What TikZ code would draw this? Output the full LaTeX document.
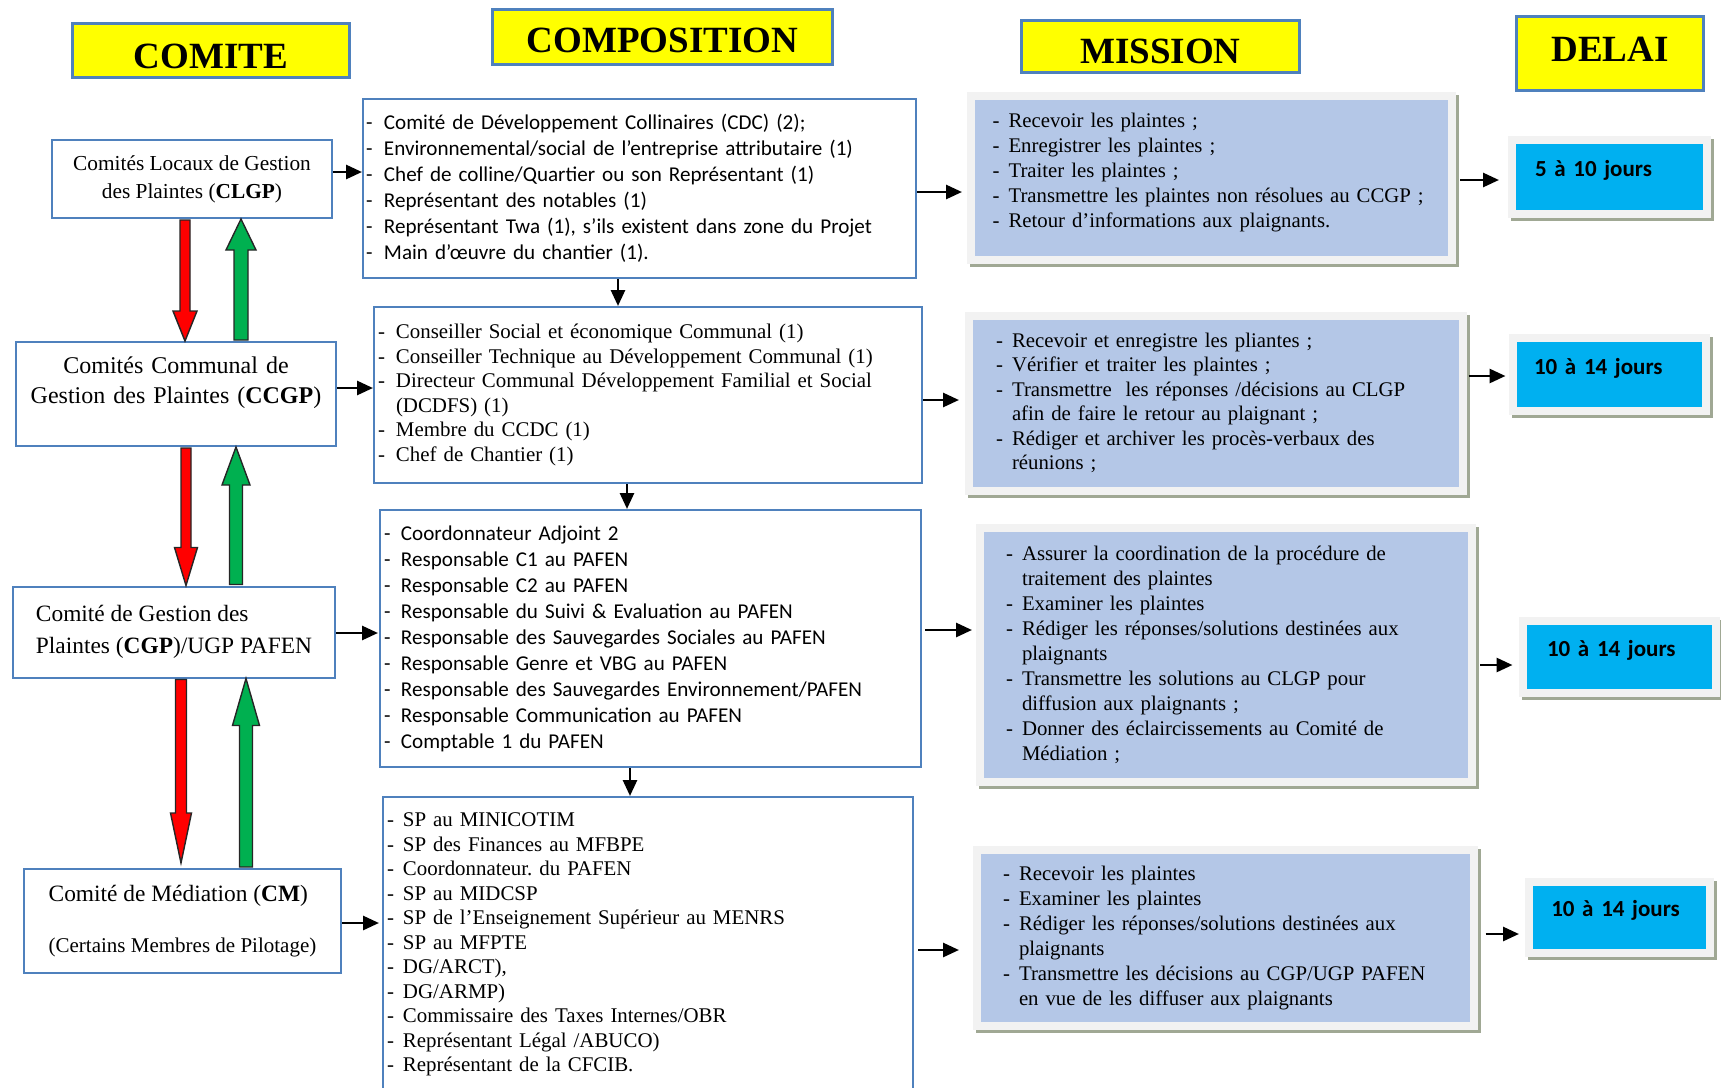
\documentclass[tikz,border=0pt]{standalone}
\usepackage{fontspec}
\setmainfont{Liberation Serif}
\newfontfamily\calibri{Carlito}
\usepackage{xcolor}
\usepackage{tikz}
\usetikzlibrary{arrows.meta, calc, shadows}
\frenchspacing

\definecolor{boxblue}{RGB}{79,129,189}
\definecolor{titleyellow}{RGB}{255,255,0}
\definecolor{missionblue}{RGB}{180,199,231}
\definecolor{framegray}{RGB}{242,242,242}
\definecolor{delaicyan}{RGB}{0,176,240}
\definecolor{shadowgreen}{RGB}{160,168,148}
\definecolor{arrowred}{RGB}{255,0,0}
\definecolor{arrowgreen}{RGB}{0,176,80}

\tikzstyle{titre} = [rectangle, draw=boxblue, line width=1.5pt, fill=titleyellow, inner sep=0pt, font=\fontsize{18.5}{20}\selectfont\bfseries]
\tikzstyle{comite} = [rectangle, draw=boxblue, line width=1pt, fill=white, inner sep=0pt]
\tikzstyle{compo} = [rectangle, draw=boxblue, line width=1pt, fill=white, inner sep=0pt, align=left]
\tikzstyle{mission} = [rectangle, draw=framegray, line width=4pt, fill=missionblue, inner sep=0pt, align=left, font=\fontsize{10.4}{12.5}\selectfont, drop shadow={shadow xshift=1.6pt, shadow yshift=-1.6pt, opacity=1, fill=shadowgreen, draw=shadowgreen, line width=4pt}]
\tikzstyle{delai} = [rectangle, draw=framegray, line width=4pt, fill=delaicyan, inner sep=0pt, align=left, text depth=8.5pt, font=\calibri\bfseries\fontsize{11.5}{14}\selectfont, drop shadow={shadow xshift=1.6pt, shadow yshift=-1.6pt, opacity=1, fill=shadowgreen, draw=shadowgreen, line width=4pt}]
\tikzstyle{arrow} = [line width=1.4pt, ->, >={Triangle[length=8pt,width=7pt]}]
\tikzstyle{blockline} = [draw=black!85, line width=0.7pt]

\newcommand{\dashitem}[1]{\makebox[#1][l]{-}}
% fill, from, to, half shaft, half head, head length
\newcommand{\blockarrow}[6]{%
  \path[blockline, fill=#1] let \p1=#2, \p2=#3, \n1={(\y2-\y1)/abs(\y2-\y1)} in
    ({\x1-#4},\y1) -- ({\x1-#4},{\y2-\n1*#6}) -- ({\x1-#5},{\y2-\n1*#6}) -- (\x1,\y2)
    -- ({\x1+#5},{\y2-\n1*#6}) -- ({\x1+#4},{\y2-\n1*#6}) -- ({\x1+#4},\y1) -- cycle;}

\begin{document}
\begin{tikzpicture}[x=0.5pt, y=-0.5pt]
\useasboundingbox (0,0) rectangle (1721,1088);

% Titles
\node (tcomite) [titre, minimum width=138.5pt, minimum height=27pt, text height=17.75pt] at (211,50.5) {COMITE};
\node (tcompo) [titre, minimum width=170pt, minimum height=27.5pt, text height=15.25pt] at (662.5,37) {COMPOSITION};
\node (tmission) [titre, minimum width=139pt, minimum height=26pt, text height=16.75pt] at (1160.5,46.5) {MISSION};
\node (tdelai) [titre, minimum width=93.5pt, minimum height=37pt, text depth=4.5pt] at (1610,53.5) {DELAI};

% Comites
\node (clgp) [comite, minimum width=140pt, minimum height=39pt, align=center, font=\fontsize{10.67}{14}\selectfont] at (192,179) {Comités Locaux de Gestion\\des Plaintes (\textbf{CLGP})};
\node (ccgp) [comite, minimum width=160pt, minimum height=52pt, text width=150pt, align=center, text depth=29pt, font=\fontsize{12}{15}\selectfont] at (176,394) {Comités Communal de\\Gestion des Plaintes (\textbf{CCGP})};
\node (cgp) [comite, minimum width=161pt, minimum height=45.5pt, align=left, font=\fontsize{11.7}{16}\selectfont] at (174,632) {Comité de Gestion des\\Plaintes (\textbf{CGP})/UGP PAFEN};
\node (cm) [comite, minimum width=158.5pt, minimum height=52pt, align=left, font=\fontsize{11.7}{14}\selectfont] at (182.5,921) {Comité de Médiation (\textbf{CM})\\[11.5pt]{\fontsize{10.5}{12}\selectfont (Certains Membres de Pilotage)}};

% Composition
\node (comp1) [compo, minimum width=276.5pt, minimum height=89.5pt, text width=273.5pt, font=\calibri\fontsize{10.55}{13}\selectfont] at (639.5,188.5) {%
\dashitem{9pt}Comité de Développement Collinaires (CDC) (2);\\
\dashitem{9pt}Environnemental/social de l’entreprise attributaire (1)\\
\dashitem{9pt}Chef de colline/Quartier ou son Représentant (1)\\
\dashitem{9pt}Représentant des notables (1)\\
\dashitem{9pt}Représentant Twa (1), s’ils existent dans zone du Projet\\
\dashitem{9pt}Main d’œuvre du chantier (1).};
\node (comp2) [compo, minimum width=274pt, minimum height=88pt, text width=270pt, font=\fontsize{10.45}{12.25}\selectfont] at (648,395) {%
\dashitem{9pt}Conseiller Social et économique Communal (1)\\
\dashitem{9pt}Conseiller Technique au Développement Communal (1)\\
\dashitem{9pt}\makebox[247.5pt][s]{Directeur Communal Développement Familial et Social}\\
\hspace*{9pt}(DCDFS) (1)\\
\dashitem{9pt}Membre du CCDC (1)\\
\dashitem{9pt}Chef de Chantier (1)};
\node (comp3) [compo, minimum width=270.5pt, minimum height=128.5pt, text width=266.5pt, font=\calibri\fontsize{10.55}{13}\selectfont] at (650.5,638.5) {%
\dashitem{8.5pt}Coordonnateur Adjoint 2\\
\dashitem{8.5pt}Responsable C1 au PAFEN\\
\dashitem{8.5pt}Responsable C2 au PAFEN\\
\dashitem{8.5pt}Responsable du Suivi \& Evaluation au PAFEN\\
\dashitem{8.5pt}Responsable des Sauvegardes Sociales au PAFEN\\
\dashitem{8.5pt}Responsable Genre et VBG au PAFEN\\
\dashitem{8.5pt}Responsable des Sauvegardes Environnement/PAFEN\\
\dashitem{8.5pt}Responsable Communication au PAFEN\\
\dashitem{8.5pt}Comptable 1 du PAFEN};
\node (comp4) [compo, minimum width=265pt, minimum height=147.5pt, text width=261pt, font=\fontsize{10.45}{12.25}\selectfont] at (648,944.5) {%
\dashitem{8pt}SP au MINICOTIM\\
\dashitem{8pt}SP des Finances au MFBPE\\
\dashitem{8pt}Coordonnateur. du PAFEN\\
\dashitem{8pt}SP au MIDCSP\\
\dashitem{8pt}SP de l’Enseignement Supérieur au MENRS\\
\dashitem{8pt}SP au MFPTE\\
\dashitem{8pt}DG/ARCT),\\
\dashitem{8pt}DG/ARMP)\\
\dashitem{8pt}Commissaire des Taxes Internes/OBR\\
\dashitem{8pt}Représentant Légal /ABUCO)\\
\dashitem{8pt}Représentant de la CFCIB.};

% Mission
\node (m1) [mission, minimum width=240.5pt, minimum height=82pt, text width=219pt, text depth=58pt] at (1211.5,178) {%
\dashitem{8pt}Recevoir les plaintes ;\\
\dashitem{8pt}Enregistrer les plaintes ;\\
\dashitem{8pt}Traiter les plaintes ;\\
\dashitem{8pt}Transmettre les plaintes non résolues au CCGP ;\\
\dashitem{8pt}Retour d’informations aux plaignants.};
\node (m2) [mission, minimum width=246.75pt, minimum height=87.5pt, text width=219.75pt, font=\fontsize{10.4}{12.25}\selectfont] at (1215.75,403) {%
\dashitem{8pt}Recevoir et enregistre les pliantes ;\\
\dashitem{8pt}Vérifier et traiter les plaintes ;\\
\dashitem{8pt}Transmettre\ \ les réponses /décisions au CLGP\\
\hspace*{8pt}afin de faire le retour au plaignant ;\\
\dashitem{8pt}Rédiger et archiver les procès-verbaux des\\
\hspace*{8pt}réunions ;};
\node (m3) [mission, minimum width=246pt, minimum height=126.75pt, text width=220pt] at (1226,654.75) {%
\dashitem{8pt}Assurer la coordination de la procédure de\\
\hspace*{8pt}traitement des plaintes\\
\dashitem{8pt}Examiner les plaintes\\
\dashitem{8pt}Rédiger les réponses/solutions destinées aux\\
\hspace*{8pt}plaignants\\
\dashitem{8pt}Transmettre les solutions au CLGP pour\\
\hspace*{8pt}diffusion aux plaignants ;\\
\dashitem{8pt}Donner des éclaircissements au Comité de\\
\hspace*{8pt}Médiation ;};
\node (m4) [mission, minimum width=248.5pt, minimum height=88.25pt, text width=222pt] at (1225,937.75) {%
\dashitem{8pt}Recevoir les plaintes\\
\dashitem{8pt}Examiner les plaintes\\
\dashitem{8pt}Rédiger les réponses/solutions destinées aux\\
\hspace*{8pt}plaignants\\
\dashitem{8pt}Transmettre les décisions au CGP/UGP PAFEN\\
\hspace*{8pt}en vue de les diffuser aux plaignants};

% Delai
\node (d1) [delai, minimum width=97.25pt, minimum height=36.75pt, text width=74.25pt] at (1609.25,176.75) {5 à 10 jours};
\node (d2) [delai, minimum width=96.75pt, minimum height=36.5pt, text width=75.25pt] at (1609.25,374.5) {10 à 14 jours};
\node (d3) [delai, minimum width=96.75pt, minimum height=36.25pt, text width=72.25pt] at (1619.25,656.75) {10 à 14 jours};
\node (d4) [delai, minimum width=90.25pt, minimum height=35.25pt, text width=68pt] at (1619.25,917.25) {10 à 14 jours};

% Arrows - comite to composition
\draw [arrow] ($(clgp.east)+(0,-7)$) -- ($(comp1.west |- clgp.east)+(0,-7)$);
\draw [arrow] ($(ccgp.east)+(0,-6)$) -- ($(comp2.west |- ccgp.east)+(0,-6)$);
\draw [arrow] ($(cgp.east)+(0,1)$) -- ($(comp3.west |- cgp.east)+(-1,1)$);
\draw [arrow] ($(cm.east)+(0,2)$) -- ($(comp4.west |- cm.east)+(-3,2)$);

% Arrows - composition chain
\draw [arrow] ($(comp1.south)+(-21.5,0)$) -- ($(comp2.north -| comp1.south)+(-21.5,0)$);
\draw [arrow] ($(comp2.south)+(-21,0)$) -- ($(comp3.north -| comp2.south)+(-21,0)$);
\draw [arrow] ($(comp3.south)+(-20.5,0)$) -- ($(comp4.north -| comp3.south)+(-20.5,0)$);

% Arrows - composition to mission
\draw [arrow] ($(comp1.east)+(0,3.5)$) -- ($(m1.west |- comp1.east)+(-5,3.5)$);
\draw [arrow] ($(comp2.east)+(0,5)$) -- ($(m2.west |- comp2.east)+(-6,5)$);
\draw [arrow] ($(comp3.east)+(3,-8.5)$) -- ($(m3.west |- comp3.east)+(-4,-8.5)$);
\draw [arrow] ($(comp4.east)+(4,5.5)$) -- ($(m4.west |- comp4.east)+(-13.5,5.5)$);

% Arrows - mission to delai
\draw [arrow] ($(m1.east |- d1.west)+(4,3.25)$) -- ($(d1.west)+(-9,3.25)$);
\draw [arrow] ($(m2.east |- d2.west)+(2,1.5)$) -- ($(d2.west)+(-3,1.5)$);
\draw [arrow] ($(m3.east |- d3.west)+(4,8.25)$) -- ($(d3.west)+(-6,8.25)$);
\draw [arrow] ($(m4.east |- d4.west)+(8,16.75)$) -- ($(d4.west)+(-6,16.75)$);

% Block arrows between comites
\blockarrow{arrowred}{($(clgp.south)+(-7,1)$)}{($(ccgp.north -| clgp.south)+(-7,0)$)}{2.5pt}{6pt}{15pt}
\blockarrow{arrowgreen}{($(ccgp.north -| clgp.south)+(49,-1)$)}{($(clgp.south)+(49,0)$)}{3.5pt}{7.5pt}{15.5pt}
\blockarrow{arrowred}{($(ccgp.south)+(10,1)$)}{($(cgp.north -| ccgp.south)+(10,0)$)}{2.5pt}{5.75pt}{19pt}
\blockarrow{arrowgreen}{($(cgp.north -| ccgp.south)+(60,-1)$)}{($(ccgp.south)+(60,0)$)}{3.25pt}{7pt}{19pt}
\blockarrow{arrowred}{($(cgp.south)+(7,1)$)}{($(cm.north -| cgp.south)+(7,-5)$)}{2.75pt}{5.25pt}{25pt}
\blockarrow{arrowgreen}{($(cm.north -| cgp.south)+(72,-1)$)}{($(cgp.south)+(72,0)$)}{3.25pt}{6.75pt}{23.5pt}
\end{tikzpicture}
\end{document}
